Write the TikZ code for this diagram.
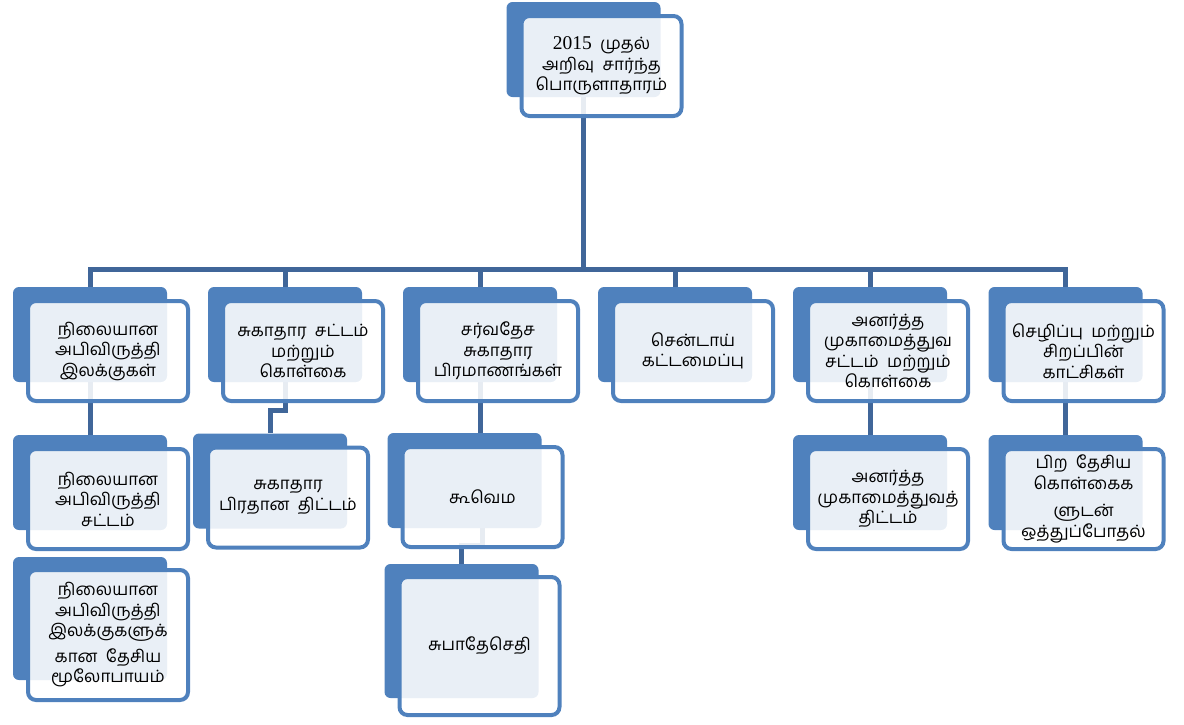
\documentclass[tikz,border=0pt]{standalone}
\usepackage{fontspec}
\setmainfont{Liberation Serif}
\newfontfamily\tamil[Script=Tamil]{Hind Madurai}
\usetikzlibrary{backgrounds}
\definecolor{smblue}{RGB}{79,129,189}
\definecolor{smline}{RGB}{64,102,153}
\tikzset{
  back/.style={fill=smblue, rounded corners=6pt, minimum width=154pt, minimum height=95pt, inner sep=0pt},
  front/.style={draw=smblue, line width=4pt, fill=white, fill opacity=0.88, text opacity=1,
    rounded corners=8pt, minimum width=160pt, minimum height=100pt, inner sep=0pt,
    align=center, xshift=18pt, yshift=-16.5pt, font=\tamil\fontsize{17}{20.5}\selectfont},
  conn/.style={smline, line width=5pt}
}
\begin{document}
\begin{tikzpicture}[x=1pt,y=-1pt]
  \useasboundingbox (0,0) rectangle (1184,724);
  % top
  \node [back] (t) at (583.5,49.5) {};
  \node [front] (tf) at (t) {{\rmfamily\fontsize{19.5}{20.5}\selectfont 2015}~ முதல்\\அறிவு~ சார்ந்த\\பொருளாதாரம்};
  % second row
  \node [back] (p1) at (90,334.5) {};
  \node [front] (p1f) at (p1) {நிலையான\\அபிவிருத்தி\\இலக்குகள்};
  \node [back] (p2) at (285,334.5) {};
  \node [front] (p2f) at (p2) {சுகாதார~ சட்டம்\\மற்றும்\\கொள்கை};
  \node [back] (p3) at (480,334.5) {};
  \node [front] (p3f) at (p3) {சர்வதேச\\சுகாதார\\பிரமாணங்கள்};
  \node [back] (p4) at (675,334.5) {};
  \node [front] (p4f) at (p4) {சென்டாய்\\கட்டமைப்பு};
  \node [back] (p5) at (870,334.5) {};
  \node [front] (p5f) at (p5) {அனர்த்த\\முகாமைத்துவ\\சட்டம்~ மற்றும்\\கொள்கை};
  \node [back] (p6) at (1065.5,334.5) {};
  \node [front] (p6f) at (p6) {செழிப்பு~ மற்றும்\\சிறப்பின்\\காட்சிகள்};
  % third row
  \node [back] (c1a) at (90,482.5) {};
  \node [front] (c1af) at (c1a) {நிலையான\\அபிவிருத்தி\\சட்டம்};
  \node [back,minimum height=123pt] (c1b) at (90,618.5) {};
  \node [front,minimum height=130pt] (c1bf) at (c1b) {நிலையான\\அபிவிருத்தி\\இலக்குகளுக்\\[5pt]கான~ தேசிய\\மூலோபாயம்};
  \node [back] (c2a) at (270,481) {};
  \node [front] (c2af) at (c2a) {சுகாதார\\பிரதான~ திட்டம்};
  \node [back] (c3a) at (464.5,480.5) {};
  \node [front] (c3af) at (c3a) {கூவெம};
  \node [back,minimum height=134pt] (c3b) at (461.5,631) {};
  \node [front,minimum height=138pt,yshift=1.5pt] (c3bf) at (c3b) {சுபாதேசெதி};
  \node [back] (c5a) at (870,482.5) {};
  \node [front] (c5af) at (c5a) {அனர்த்த\\முகாமைத்துவத்\\திட்டம்};
  \node [back] (c6a) at (1065.5,482.5) {};
  \node [front] (c6af) at (c6a) {பிற~ தேசிய\\கொள்கைக\\[7pt]ளுடன்\\ஒத்துப்போதல்};
  % connectors
  \begin{pgfonlayer}{background}
    \coordinate (bar) at (0,269.5);
    \foreach \i in {1,...,6}
      \draw [conn] (t.south) |- (bar -| p\i.north) -- (p\i.north);
    \draw [conn] (p1.south) -- (c1a.north);
    \draw [conn] (p2.south) -- ++(0,28) -| (c2a.north);
    \draw [conn] (p3.south) -- (p3.south |- c3a.north);
    \draw [conn] (c3a.south -| c3af.south) -- ++(0,17) -| (c3b.north);
    \draw [conn] (p5.south) -- (c5a.north);
    \draw [conn] (p6.south) -- (c6a.north);
  \end{pgfonlayer}
\end{tikzpicture}
\end{document}
